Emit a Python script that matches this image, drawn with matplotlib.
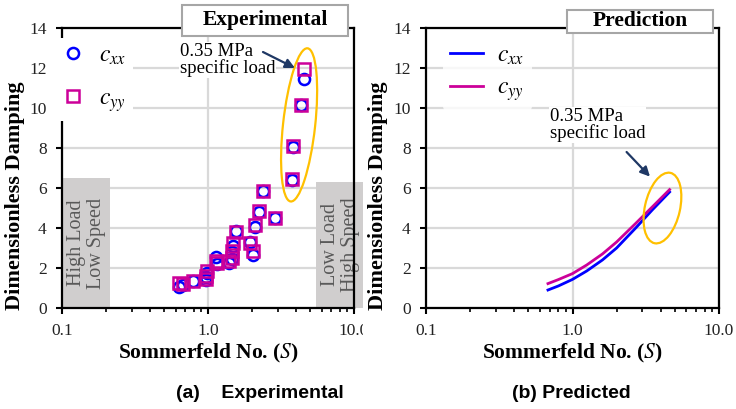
import matplotlib
matplotlib.use("Agg")
import matplotlib.pyplot as plt
from matplotlib.patches import Ellipse, Rectangle
from matplotlib.ticker import LogLocator, FixedLocator, NullFormatter

plt.rcParams['font.family'] = ['Liberation Serif', 'DejaVu Serif']
plt.rcParams['mathtext.fontset'] = 'stix'

s_exp = [0.63, 0.67, 0.79, 0.97, 0.97, 0.98, 1.13, 1.15, 1.40, 1.45, 1.47, 1.48,
         1.55, 1.94, 2.02, 2.10, 2.23, 2.39, 2.87, 3.74, 3.83, 4.31, 4.55]
cxx_exp = [1.05, 1.15, 1.35, 1.40, 1.55, 1.75, 2.55, 2.20, 2.25, 2.45, 2.80, 3.10,
           3.85, 3.30, 2.65, 4.05, 4.80, 5.85, 4.50, 6.40, 8.05, 10.15, 11.45]
cyy_exp = [1.25, 1.20, 1.35, 1.45, 1.60, 1.85, 2.35, 2.25, 2.35, 2.50, 2.85, 3.25,
           3.80, 3.25, 2.85, 4.15, 4.85, 5.85, 4.50, 6.45, 8.10, 10.15, 11.95]

# Predicted curves
s_pred = [0.68, 0.8, 1.0, 1.25, 1.6, 2.0, 2.7, 3.5, 4.6]
cxx_pred = [0.90, 1.10, 1.43, 1.85, 2.40, 3.00, 4.00, 4.90, 5.80]
cyy_pred = [1.22, 1.42, 1.72, 2.15, 2.70, 3.30, 4.23, 5.05, 5.92]

xticks = [0.1, 1.0, 10.0]
xticklabels = ['0.1', '1.0', '10.0']
yticks = [0, 2, 4, 6, 8, 10, 12, 14]

BLUE = '#0000FF'
MAG = '#CC0099'
GOLD = '#FFC000'
NAVY = '#1F3864'
GRID = '#D9D9D9'
XLABEL = 'Sommerfeld No. (' + r'$\mathbf{\mathit{S}}$' + ')'

W, H = 736, 409
fig = plt.figure(figsize=(7.36, 4.09), dpi=100)
ax1 = fig.add_axes([62 / W, 101 / H, 292 / W, 280 / H])
ax2 = fig.add_axes([426 / W, 101 / H, 293 / W, 280 / H])


def style_axes(ax):
    ax.set_xscale('log')
    ax.set_xlim(0.1, 10)
    ax.set_ylim(0, 14)
    ax.xaxis.set_major_locator(FixedLocator(xticks))
    ax.set_xticklabels(xticklabels)
    ax.xaxis.set_minor_locator(LogLocator(base=10, subs=range(2, 10)))
    ax.xaxis.set_minor_formatter(NullFormatter())
    ax.set_yticks(yticks)
    ax.grid(True, which='major', color=GRID, lw=1.6, zorder=0)
    ax.set_axisbelow(True)
    for sp in ax.spines.values():
        sp.set_linewidth(1.6)
        sp.set_color('black')
    ax.tick_params(which='major', direction='out', length=4, width=1.5,
                   labelsize=12.5, labelcolor='#222222')
    ax.tick_params(axis='x', which='major', pad=7)
    ax.tick_params(axis='y', which='major', pad=7)
    ax.tick_params(which='minor', direction='out', length=3, width=1.2)
    ax.set_xlabel(XLABEL, fontsize=15.5, fontweight='bold', labelpad=2)
    ax.set_ylabel('Dimensionless Damping', fontsize=16, fontweight='bold')


def title_box(x0, x1, y0, y1, label):
    # box drawn in pixel units of the figure, from the top-left corner
    fig.patches.append(Rectangle((x0 / W, 1 - y1 / H), (x1 - x0) / W,
                                 (y1 - y0) / H, transform=fig.transFigure,
                                 facecolor='white', edgecolor='#A6A6A6',
                                 lw=1.5, zorder=10))
    fig.text((x0 + x1) / 2 / W, 1 - (y0 + y1) / 2 / H, label, ha='center',
             va='center', fontsize=15.5, fontweight='bold', zorder=11)


style_axes(ax1)
style_axes(ax2)
ax1.yaxis.set_label_coords(-0.127, 0.4)
ax2.yaxis.set_label_coords(-0.13, 0.4)

# ---- (a) experimental ----
ax1.add_patch(Rectangle((0.1, 0), 0.113, 6.5, facecolor='#D0CECE',
                        edgecolor='none', zorder=1))
ax1.add_patch(Rectangle((5.5, 0), 6.0, 6.3, facecolor='#D0CECE',
                        edgecolor='none', zorder=1, clip_on=False))
ax1.text(0.147, 3.25, 'High Load\nLow Speed', rotation=90, ha='center',
         va='center', fontsize=14.5, color='#595959', linespacing=1.05, zorder=2)
ax1.text(8.1, 3.15, 'Low Load\nHigh Speed', rotation=90, ha='center',
         va='center', fontsize=14.5, color='#595959', linespacing=1.05, zorder=2,
         clip_on=False)

ax1.plot(s_exp, cxx_exp, 'o', mfc='none', mec=BLUE, mew=1.8, ms=8,
         label=r'$c_{xx}$', zorder=3)
ax1.plot(s_exp, cyy_exp, 's', mfc='none', mec=MAG, mew=1.8, ms=8,
         label=r'$c_{yy}$', zorder=4)
leg1 = ax1.legend(loc='upper left', bbox_to_anchor=(-0.027, 0.974), frameon=True,
                  fontsize=17, handlelength=0.8, handletextpad=0.7,
                  labelspacing=0.9, borderaxespad=0.1, borderpad=0.3)
leg1.get_frame().set_facecolor('white')
leg1.get_frame().set_edgecolor('none')
leg1.get_frame().set_alpha(1)

ax1.add_patch(Ellipse((0.812, 0.654), 0.11, 0.55, angle=-6,
                      transform=ax1.transAxes, fill=False, edgecolor=GOLD,
                      lw=1.6, zorder=5))
ax1.text(0.64, 12.4, '0.35 MPa\nspecific load', fontsize=13.5, ha='left',
         va='center', linespacing=1.0,
         bbox=dict(facecolor='white', edgecolor='none', pad=0.5), zorder=6)
ax1.annotate('', xy=(3.94, 12.0), xytext=(2.38, 12.8),
             arrowprops=dict(arrowstyle='-|>', color=NAVY, lw=1.6,
                             mutation_scale=14, shrinkA=0, shrinkB=0), zorder=6)

# ---- (b) predicted ----
ax2.plot(s_pred, cxx_pred, color=BLUE, lw=2, label=r'$c_{xx}$', zorder=3)
ax2.plot(s_pred, cyy_pred, color=MAG, lw=2, label=r'$c_{yy}$', zorder=4)
leg2 = ax2.legend(loc='upper left', bbox_to_anchor=(0.05, 0.974), frameon=True,
                  fontsize=17, handlelength=1.4, handletextpad=0.6,
                  labelspacing=0.47, borderaxespad=0.1, borderpad=0.3)
leg2.get_frame().set_facecolor('white')
leg2.get_frame().set_edgecolor('none')

ax2.add_patch(Ellipse((0.807, 0.357), 0.12, 0.257, angle=-12,
                      transform=ax2.transAxes, fill=False, edgecolor=GOLD,
                      lw=1.6, zorder=5))
ax2.text(0.702, 9.15, '0.35 MPa\nspecific load', fontsize=13.5, ha='left',
         va='center', linespacing=1.0,
         bbox=dict(facecolor='white', edgecolor='none', pad=0.5), zorder=6)
ax2.annotate('', xy=(3.38, 6.57), xytext=(2.34, 7.8),
             arrowprops=dict(arrowstyle='-|>', color=NAVY, lw=1.6,
                             mutation_scale=14, shrinkA=0, shrinkB=0), zorder=6)

title_box(182, 348, 5, 36, 'Experimental')
title_box(567, 713, 10, 33, 'Prediction')

# the left panel is cut off at its right edge in the source
fig.patches.append(Rectangle((363 / W, 70 / H), 8 / W, 27 / H,
                             transform=fig.transFigure, facecolor='white',
                             edgecolor='none', zorder=10))

fig.text(260 / W, 1 - 393 / H, '(a)    Experimental', ha='center',
         va='center', fontsize=14, fontweight='bold', family='Liberation Sans')
fig.text(571 / W, 1 - 393 / H, '(b) Predicted', ha='center', va='center',
         fontsize=14, fontweight='bold', family='Liberation Sans')

fig.savefig('out.png', dpi=100)
